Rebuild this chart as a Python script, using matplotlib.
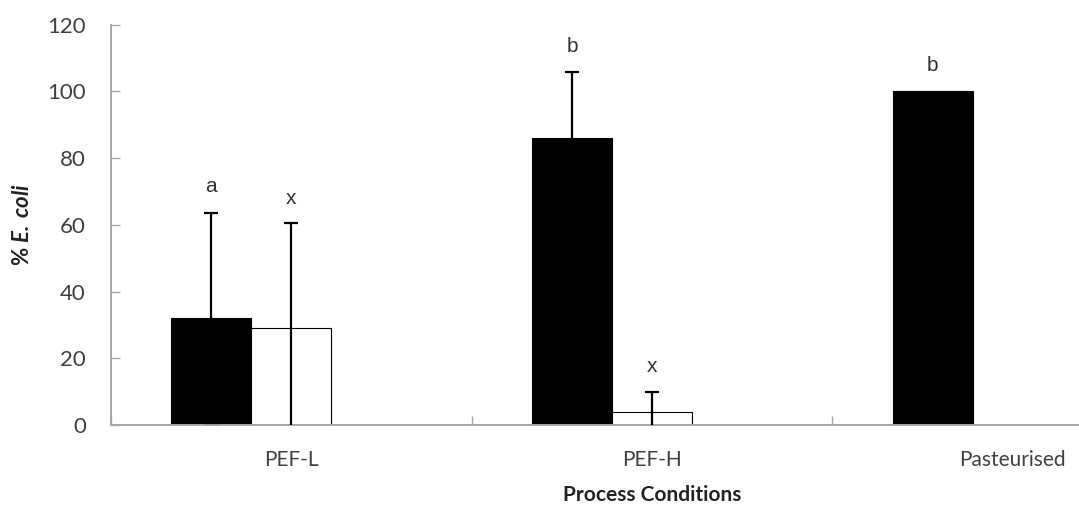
import numpy as np
import matplotlib
matplotlib.use("Agg")
import matplotlib.pyplot as plt

categories = ["PEF-L", "PEF-H", "Pasteurised"]
black_vals = [32, 86, 100]
black_err = [31.5, 19.7, np.nan]
white_vals = [29, 4, np.nan]
white_err = [31.5, 6, np.nan]
black_letters = ["a", "b", "b"]
white_letters = ["x", "x", ""]
yticks = [0, 20, 40, 60, 80, 100, 120]

plt.rcParams['font.family'] = ['Lato', 'DejaVu Sans']
plt.rcParams['mathtext.fontset'] = 'custom'
plt.rcParams['mathtext.bfit'] = 'Lato:bold:italic'
plt.rcParams['mathtext.rm'] = 'Lato:bold'

W, H = 1079, 516
fig = plt.figure(figsize=(W / 100, H / 100), dpi=100)
left = 111 / W
bottom = (H - 425) / H
height = 400.3 / H
width = 1082 / W
ax = fig.add_axes([left, bottom, width, height])

x = np.arange(len(categories))
bw = 80 / 360.5

eb_kw = dict(ecolor="black", elinewidth=1.6, capsize=4.8, capthick=1.6)
ax.bar(x - bw, black_vals, width=bw, color="black",
       edgecolor="black", linewidth=0.8, zorder=2)
ax.bar(x, white_vals, width=bw, color="white",
       edgecolor="black", linewidth=0.8, zorder=2)
ax.errorbar(x - bw, black_vals, yerr=black_err, fmt="none", zorder=3, **eb_kw)
ax.errorbar(x, white_vals, yerr=white_err, fmt="none", zorder=3, **eb_kw)

txt_kw = dict(ha="center", va="center", fontsize=15, color="#333333",
              textcoords="offset points", family=["Liberation Sans", "DejaVu Sans"])
for i in range(len(categories)):
    top = black_vals[i] + (0 if np.isnan(black_err[i]) else black_err[i])
    ax.annotate(black_letters[i], (x[i] - bw, top), xytext=(0, 19), **txt_kw)
    if white_letters[i]:
        top = white_vals[i] + white_err[i]
        ax.annotate(white_letters[i], (x[i], top), xytext=(0, 18), **txt_kw)

ax.set_xlim(-0.5, len(categories) - 0.5)
ax.set_ylim(0, 120)
ax.set_yticks(yticks)
ax.set_yticklabels([str(v) for v in yticks])
ax.set_xticks(np.arange(len(categories) + 1) - 0.5)
ax.set_xticklabels([])
ax.set_xticks(x, minor=True)
ax.set_xticklabels(categories, minor=True)

for s in ["top", "right"]:
    ax.spines[s].set_visible(False)
for s in ["left", "bottom"]:
    ax.spines[s].set_color("#a6a6a6")
    ax.spines[s].set_linewidth(1.4)

ax.tick_params(axis="y", direction="in", length=6.5, width=1, color="#a6a6a6",
               pad=18, labelsize=16, labelcolor="#404040")
ax.tick_params(axis="x", which="major", direction="in", length=6.5, width=1,
               color="#a6a6a6")
ax.tick_params(axis="x", which="minor", length=0, pad=18, labelsize=15,
               labelcolor="#404040")

ax.set_ylabel(r"% $\mathbfit{E.\,coli}$", fontsize=16, fontweight="bold",
              color="#222222", labelpad=10)
ax.set_xlabel("Process Conditions", fontsize=15, fontweight="bold",
              color="#222222", labelpad=11)

fig.savefig("out.png", dpi=100)
